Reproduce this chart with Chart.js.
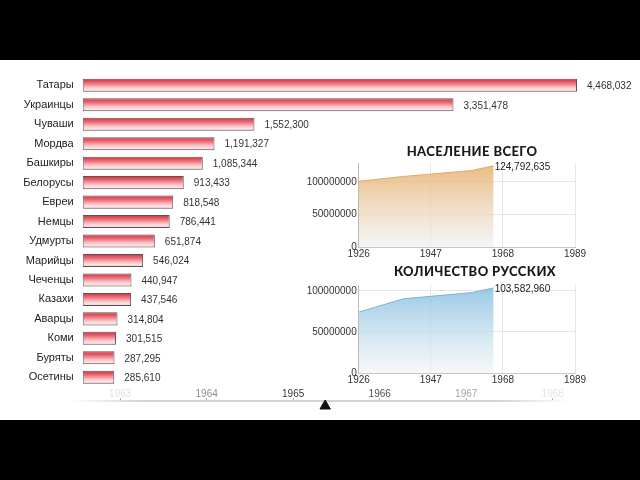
<!DOCTYPE html>
<html>
<head>
<meta charset="utf-8">
<script src="https://cdn.jsdelivr.net/npm/chart.js@4.4.0/dist/chart.umd.min.js"></script>
<style>
    body { margin: 0; width: 640px; height: 480px; background: #000; overflow: hidden; position: relative; }
    #page { position: absolute; left: 0; top: 60px; width: 640px; height: 360px; background: #fff; }
    .box { position: absolute; }
    .title { position: absolute; width: 240px; text-align: center; font: 900 13px Lato, sans-serif; color: #1a1a1a; letter-spacing: 0.4px; line-height: 16px; }
</style>
</head>
<body>
<div id="page"></div>
<div class="box" style="left:0;top:60px;width:640px;height:360px"><canvas id="nationsChart"></canvas></div>
<div class="box" style="left:300px;top:155px;width:340px;height:106px"><canvas id="totalChart"></canvas></div>
<div class="box" style="left:300px;top:277px;width:340px;height:110px"><canvas id="russianChart"></canvas></div>
<div class="box" style="left:0;top:380px;width:640px;height:40px"><canvas id="timelineChart"></canvas></div>
<div class="title" style="left:352px;top:143px">НАСЕЛЕНИЕ ВСЕГО</div>
<div class="title" style="left:355px;top:263px">КОЛИЧЕСТВО РУССКИХ</div>
<script>
const nations = ['Татары', 'Украинцы', 'Чуваши', 'Мордва', 'Башкиры', 'Белорусы', 'Евреи', 'Немцы',
    'Удмурты', 'Марийцы', 'Чеченцы', 'Казахи', 'Аварцы', 'Коми', 'Буряты', 'Осетины'];
const nationCounts = [4468032, 3351478, 1552300, 1191327, 1085344, 913433, 818548, 786441,
    651874, 546024, 440947, 437546, 314804, 301515, 287295, 285610];

const censusYears = [1926, 1939, 1959, 1965.3];
const totalPopulation = [100891244, 108377000, 117534315, 124792635];
const russianPopulation = [74072096, 90306000, 97863579, 103582960];

const insetYearTicks = [1926, 1947, 1968, 1989];
const populationTicks = [0, 50000000, 100000000];
const timelineTicks = [1963, 1964, 1965, 1966, 1967, 1968];
const currentYear = 1965.37;

const FONT = '"Liberation Sans", Arial, sans-serif';
Chart.defaults.font.family = FONT;
Chart.defaults.animation = false;

const BAR_SHARE = 0.67;

function barGradient(context) {
    const chart = context.chart;
    const area = chart.chartArea;
    if (!area || context.type !== 'data') return '#ec7a82';
    const band = (area.bottom - area.top) / nations.length;
    const half = band * BAR_SHARE / 2;
    const cy = chart.scales.y.getPixelForValue(context.dataIndex);
    const g = chart.ctx.createLinearGradient(0, cy - half, 0, cy + half);
    g.addColorStop(0, '#d62c3c');
    g.addColorStop(0.3, '#ea6670');
    g.addColorStop(0.65, '#f8c4c8');
    g.addColorStop(0.85, '#fde4e4');
    g.addColorStop(1, '#f3acb0');
    return g;
}

const barValueLabels = {
    id: 'barValueLabels',
    afterDatasetsDraw(chart) {
        const ctx = chart.ctx;
        ctx.save();
        ctx.font = '10px ' + FONT;
        ctx.fillStyle = '#333';
        ctx.textBaseline = 'middle';
        chart.getDatasetMeta(0).data.forEach((bar, i) => {
            ctx.fillText(nationCounts[i].toLocaleString('en-US'), bar.x + 10, bar.y + 1);
        });
        ctx.restore();
    }
};

new Chart(document.getElementById('nationsChart'), {
    type: 'bar',
    data: {
        labels: nations,
        datasets: [{
            data: nationCounts,
            backgroundColor: barGradient,
            borderColor: '#555',
            borderWidth: 1,
            borderSkipped: false,
            barPercentage: BAR_SHARE,
            categoryPercentage: 1
        }]
    },
    options: {
        indexAxis: 'y',
        responsive: true,
        maintainAspectRatio: false,
        layout: { padding: { top: 13, bottom: 33, right: 63, left: 0 } },
        plugins: { legend: { display: false }, tooltip: { enabled: false } },
        scales: {
            x: { display: false, min: 0, max: Math.max(...nationCounts) },
            y: {
                grid: { display: false, drawTicks: false },
                border: { display: false },
                ticks: { color: '#222', font: { size: 11 }, padding: 9 },
                afterFit(scale) { scale.width = 82.7; }
            }
        }
    },
    plugins: [barValueLabels]
});

function areaFill(topColor, bottomColor) {
    return (context) => {
        const area = context.chart.chartArea;
        if (!area) return topColor;
        const g = context.chart.ctx.createLinearGradient(0, area.top, 0, area.bottom);
        g.addColorStop(0, topColor);
        g.addColorStop(1, bottomColor);
        return g;
    };
}

const lastValueLabel = {
    id: 'lastValueLabel',
    afterDatasetsDraw(chart) {
        const points = chart.getDatasetMeta(0).data;
        const values = chart.data.datasets[0].data;
        const last = points[points.length - 1];
        const ctx = chart.ctx;
        ctx.save();
        ctx.font = '10px ' + FONT;
        ctx.fillStyle = '#222';
        ctx.textBaseline = 'middle';
        ctx.fillText(values[values.length - 1].y.toLocaleString('en-US'), last.x + 1, last.y + 1);
        ctx.restore();
    }
};

function createInsetChart(id, values, topColor, bottomColor, lineColor) {
    new Chart(document.getElementById(id), {
        type: 'line',
        data: {
            datasets: [{
                data: censusYears.map((year, i) => ({ x: year, y: values[i] })),
                fill: 'origin',
                backgroundColor: areaFill(topColor, bottomColor),
                borderColor: lineColor,
                borderWidth: 1,
                pointRadius: 0,
                tension: 0
            }]
        },
        options: {
            responsive: true,
            maintainAspectRatio: false,
            layout: { padding: { top: 6.7, right: 65, left: 0, bottom: 0 } },
            plugins: { legend: { display: false }, tooltip: { enabled: false } },
            scales: {
                x: {
                    type: 'linear',
                    min: insetYearTicks[0],
                    max: insetYearTicks[insetYearTicks.length - 1],
                    afterBuildTicks(axis) { axis.ticks = insetYearTicks.map(v => ({ value: v })); },
                    grid: { color: '#e6e6e6', drawTicks: false },
                    border: { color: '#c8c8c8' },
                    ticks: { color: '#333', font: { size: 10 }, padding: 1, maxRotation: 0, autoSkip: false, callback: v => String(v) },
                    afterFit(scale) { scale.height = 14; }
                },
                y: {
                    min: 0,
                    max: Math.max(...values) * 1.034,
                    afterBuildTicks(axis) { axis.ticks = populationTicks.map(v => ({ value: v })); },
                    grid: { color: '#e6e6e6', drawTicks: false },
                    border: { color: '#bbb' },
                    ticks: { color: '#333', font: { size: 10 }, padding: 2, callback: v => String(v) },
                    afterFit(scale) { scale.width = 58.7; }
                }
            }
        },
        plugins: [lastValueLabel]
    });
}

createInsetChart('totalChart', totalPopulation, 'rgba(232,176,106,0.88)', 'rgba(238,238,238,0.6)', '#e2aa68');
createInsetChart('russianChart', russianPopulation, 'rgba(134,192,226,0.88)', 'rgba(240,242,244,0.6)', '#7cb2d0');

function tickShade(year) {
    const alpha = Math.max(0.12, 1 - Math.abs(year - currentYear) / 2.8);
    return 'rgba(20,20,20,' + alpha.toFixed(2) + ')';
}

const timelineCanvas = document.getElementById('timelineChart');
const lineFade = timelineCanvas.getContext('2d').createLinearGradient(70, 0, 570, 0);
lineFade.addColorStop(0, 'rgba(210,210,210,0)');
lineFade.addColorStop(0.15, 'rgba(210,210,210,1)');
lineFade.addColorStop(0.85, 'rgba(210,210,210,1)');
lineFade.addColorStop(1, 'rgba(210,210,210,0)');

new Chart(timelineCanvas, {
    type: 'scatter',
    data: {
        datasets: [{
            data: [{ x: currentYear, y: 0 }],
            pointStyle: 'triangle',
            radius: 6,
            backgroundColor: '#111',
            borderColor: '#111',
            clip: false
        }]
    },
    options: {
        responsive: true,
        maintainAspectRatio: false,
        layout: { padding: { left: 70, right: 70, top: 0, bottom: 9 } },
        plugins: { legend: { display: false }, tooltip: { enabled: false } },
        scales: {
            x: {
                type: 'linear',
                position: 'top',
                min: 1962.42,
                max: 1968.2,
                afterBuildTicks(axis) { axis.ticks = timelineTicks.map(v => ({ value: v })); },
                grid: { drawOnChartArea: false, tickLength: 3, color: '#aaa' },
                border: { color: lineFade, width: 2 },
                ticks: { font: { size: 10 }, padding: -2, maxRotation: 0, autoSkip: false, color: ctx => tickShade(ctx.tick.value), callback: v => String(v) },
                afterFit(scale) { scale.height = 21; }
            },
            y: { display: false, min: -1, max: 1 }
        }
    }
});
</script>
</body>
</html>
